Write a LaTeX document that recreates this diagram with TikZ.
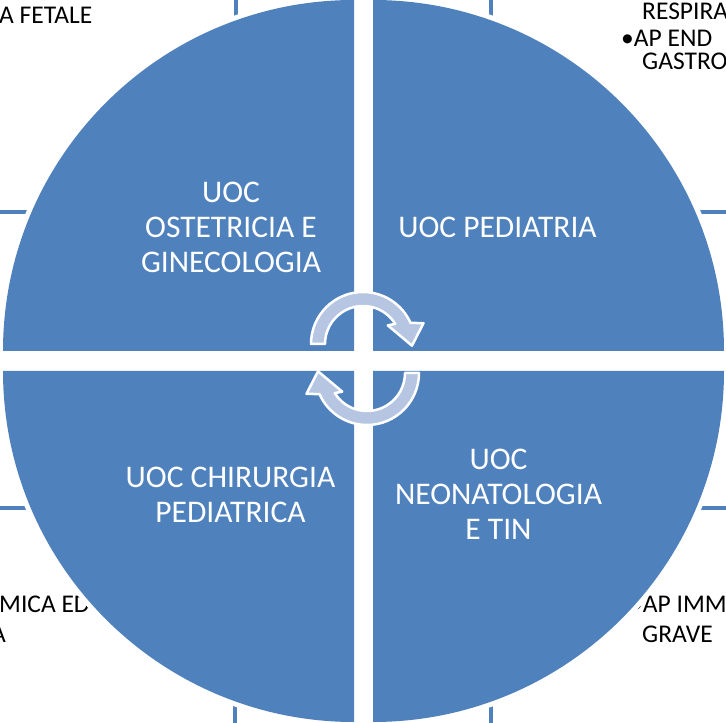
\documentclass[tikz,border=0pt]{standalone}
\usepackage{fontspec}
\setmainfont{Carlito}
\setsansfont{Carlito}
\definecolor{quadBlue}{RGB}{79,129,189}
\definecolor{arrowFill}{RGB}{182,197,226}

\begin{document}
\begin{tikzpicture}[x = 1pt, y = 1pt, font=\sffamily]
	\tikzstyle{boxStyle} = [draw = quadBlue, line width = 3.5pt]
	\tikzstyle{quadStyle} = [fill = quadBlue, preaction = {draw = white, line width = 10pt}]
	\tikzstyle{cycleStyle} = [fill = arrowFill, draw = white, line width = 2.5pt, line join = round]
	\tikzstyle{unitStyle} = [text = white, align = center, inner sep = 0pt, font = \fontsize{31.5}{35}\selectfont]
	\tikzstyle{listStyle} = [anchor = base west, inner sep = 0pt, font = \fontsize{25.5}{30}\selectfont]
	\useasboundingbox (0,0) rectangle (726,723);
	\clip (0,0) rectangle (726,723);
	\draw[boxStyle] (-20,511) rectangle (236,760);
	\draw[boxStyle] (491,511) rectangle (760,760);
	\draw[boxStyle] (-20,-40) rectangle (235,215);
	\draw[boxStyle] (491,-40) rectangle (760,215);
	\node[listStyle] (l1) at (-1,699) {A FETALE};
	\node[listStyle] (r1) at (642,703) {RESPIRA};
	\node[listStyle] (r2) at (621,676) {•AP END};
	\node[listStyle] (r3) at (642,653) {GASTRO};
	\node[listStyle] (bl1) at (-1,110) {MICA ED};
	\node[listStyle] (bl2) at (-9,80) {A};
	\node[listStyle] (br1) at (630,110) {•AP IMM};
	\node[listStyle] (br2) at (642,80) {GRAVE};
	\path[quadStyle] (354,372) -- ++(-351,0) arc[start angle = 180, end angle = 90, radius = 351] -- cycle;
	\path[quadStyle] (373,372) -- ++(0,351) arc[start angle = 90, end angle = 0, radius = 351] -- cycle;
	\path[quadStyle] (354,352) -- ++(0,-351) arc[start angle = 270, end angle = 180, radius = 351] -- cycle;
	\path[quadStyle] (373,352) -- ++(351,0) arc[start angle = 0, end angle = -90, radius = 351] -- cycle;
	\node[unitStyle] (ostetricia) at (231,496) {UOC\\OSTETRICIA E\\GINECOLOGIA};
	\node[unitStyle] (pediatria) at (497.5,496) {UOC PEDIATRIA};
	\node[unitStyle] (chirurgia) at (230.5,228.5) {UOC CHIRURGIA\\PEDIATRICA};
	\node[unitStyle] (neonatologia) at (498.5,229) {UOC\\NEONATOLOGIA\\E TIN};
	\begin{scope}[shift = {(363,379)}]
		\draw[cycleStyle] (180:52) arc[start angle = 180, end angle = 24, radius = 52] -- (19:64) -- (-2:49) -- (37:31) -- (32:38) arc[start angle = 32, end angle = 180, radius = 38] -- cycle;
	\end{scope}
	\begin{scope}[shift = {(367,350)}, rotate = 180]
		\draw[cycleStyle] (180:52) arc[start angle = 180, end angle = 24, radius = 52] -- (19:64) -- (-2:49) -- (37:31) -- (32:38) arc[start angle = 32, end angle = 180, radius = 38] -- cycle;
	\end{scope}
\end{tikzpicture}
\end{document}
